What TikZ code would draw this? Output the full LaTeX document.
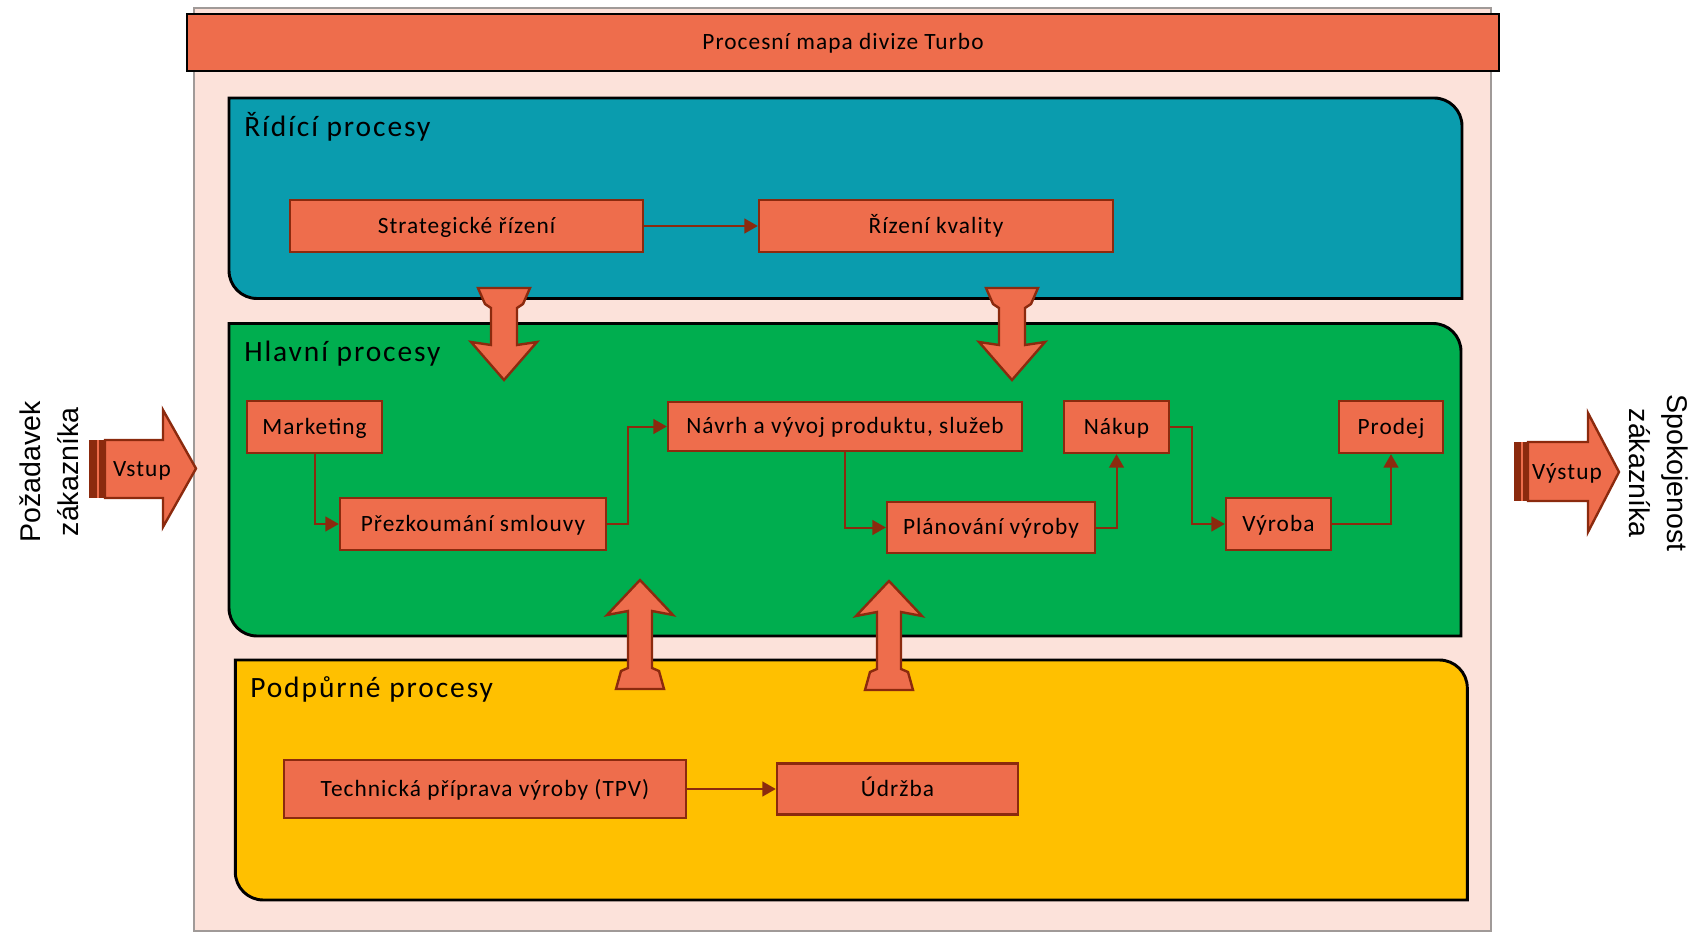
\documentclass[tikz,border=0pt]{standalone}
\usepackage{fontspec}
\setmainfont{Carlito}
\newfontfamily\arialfont{Liberation Sans}
\newfontfamily\boxfont[LetterSpace=4.5]{Carlito}
\newfontfamily\headfont[LetterSpace=6.5]{Carlito}
\usetikzlibrary{arrows.meta}
\definecolor{procorange}{HTML}{EE6D4C}
\definecolor{procedge}{HTML}{8B2A0E}
\definecolor{mapbg}{HTML}{FCE2DA}
\definecolor{mapframe}{HTML}{A09A98}
\definecolor{ctrlblue}{HTML}{0A9CAE}
\definecolor{maingreen}{HTML}{00AE4F}
\definecolor{suppyellow}{HTML}{FFC000}

% region with rounded top-right and bottom-left corners
\newcommand{\procregion}[5]{%
  \filldraw[region, fill=#5] (#1,#2) -- ({#3-28},#2)
    .. controls ({#3-12.5},#2) and (#3,{#2+12.5}) .. (#3,{#2+28})
    -- (#3,#4) -- ({#1+28},#4)
    .. controls ({#1+12.5},#4) and (#1,{#4-12.5}) .. (#1,{#4-28}) -- cycle;}
% thick block arrow pointing down, top centre at (#1,#2)
\newcommand{\blockdown}[2]{%
  \filldraw[blockarrow, shift={(#1,#2)}] (-26,0) -- (26,0) -- (19,16) -- (13,20)
    -- (13,57) -- (33,54) -- (0,92) -- (-33,54) -- (-13,57) -- (-13,20)
    -- (-19,16) -- cycle;}
% thick block arrow pointing up, tip at (#1,#2)
\newcommand{\blockup}[2]{%
  \filldraw[blockarrow, shift={(#1,#2)}] (0,0) -- (33,35) -- (12,31) -- (12,88)
    -- (19,91) -- (24,109) -- (-24,109) -- (-19,91) -- (-12,88) -- (-12,31)
    -- (-33,35) -- cycle;}

\begin{document}
\begin{tikzpicture}[x=0.75pt,y=-0.75pt,
  wh/.style 2 args={minimum width=#1*0.75pt, minimum height=#2*0.75pt},
  boxtext/.style={inner sep=0pt, text height=13.1pt, text depth=2.3pt,
    font=\boxfont\fontsize{17.5}{21}\selectfont, text=black},
  procbox/.style={boxtext, draw=procedge, fill=procorange, line width=1.8pt},
  titlebox/.style={boxtext, draw=black, fill=procorange, line width=2.2pt},
  heading/.style={inner sep=0pt, anchor=base west, font=\headfont\fontsize{22.1}{26}\selectfont},
  conn/.style={draw=procedge, line width=1.5pt, -{Triangle[length=10pt,width=11pt]}},
  region/.style={draw=black, line width=2.2pt},
  blockarrow/.style={fill=procorange, draw=procedge, line width=1.8pt, line join=miter},
  sidetext/.style={align=center, inner sep=0pt,
    font=\arialfont\fontsize{21.4}{28.5}\selectfont}]
\useasboundingbox (0,0) rectangle (1708,937);

% background panel
\filldraw[fill=mapbg, draw=mapframe, line width=1.6pt] (194,8) rectangle (1491,931);
\node[titlebox, wh={1312}{57}] (title) at (843,42.5) {Procesní mapa divize Turbo};

% process groups
\procregion{229}{98}{1462}{298.5}{ctrlblue}
\procregion{229}{323.5}{1461}{636}{maingreen}
\procregion{235.3}{660}{1467.3}{900}{suppyellow}

\node[heading] (hctrl) at (244,136.5) {Řídící procesy};
\node[heading] (hmain) at (244,362) {Hlavní procesy};
\node[heading] (hsupp) at (250,697) {Podpůrné procesy};

% links between groups
\blockdown{504}{288}
\blockdown{1012}{288}
\blockup{640}{580}
\blockup{889}{581}

% control processes
\node[procbox, wh={353}{52}] (strat) at (466.5,226) {Strategické řízení};
\node[procbox, wh={354}{52}] (kval) at (936,226) {Řízení kvality};

% main processes
\node[procbox, wh={135}{52}] (mkt) at (314.5,427) {Marketing};
\node[procbox, wh={266}{52}] (prez) at (473,524) {Přezkoumání smlouvy};
\node[procbox, wh={354}{49}] (navrh) at (845,426.5) {Návrh a vývoj produktu, služeb};
\node[procbox, wh={208}{51}] (plan) at (991,527.5) {Plánování výroby};
\node[procbox, wh={105}{52}] (nakup) at (1116.5,427) {Nákup};
\node[procbox, wh={105}{52}] (vyroba) at (1278.5,524) {Výroba};
\node[procbox, wh={104}{52}] (prodej) at (1391,427) {Prodej};

% support processes
\node[procbox, wh={402}{58}] (tpv) at (485,789) {Technická příprava výroby (TPV)};
\node[procbox, wh={241}{51}] (udrzba) at (897.5,789) {Údržba};

% flow
\draw[conn] (strat.east) -- (kval.west);
\draw[conn] (mkt.south) |- (prez.west);
\draw[conn] (prez.east) -- ++(21,0) |- (navrh.west);
\draw[conn] (navrh.south) |- (plan.west);
\draw[conn] (plan.east) -| (nakup.south);
\draw[conn] (nakup.east) -- ++(22,0) |- (vyroba.west);
\draw[conn] (vyroba.east) -| (prodej.south);
\draw[conn] (tpv.east) -- (udrzba.west);

% input arrow
\fill[procedge] (89,440) rectangle (105,498);
\draw[procorange, line width=1pt] (98,440) -- (98,498);
\filldraw[blockarrow] (105,440) -- (163,440) -- (163,410) -- (196,468.5)
  -- (163,527) -- (163,498) -- (105,498) -- cycle;
\node[boxtext] (vstup) at (142,469) {Vstup};
\node[sidetext, rotate=90] (pozadavek) at (49,472) {Požadavek\\zákazníka};

% output arrow
\fill[procedge] (1514,442) rectangle (1528,501);
\draw[procorange, line width=1pt] (1522,442) -- (1522,501);
\filldraw[blockarrow] (1528,442) -- (1588,442) -- (1588,413) -- (1619,472)
  -- (1588,532) -- (1588,501) -- (1528,501) -- cycle;
\node[boxtext] (vystup) at (1567,472) {Výstup};
\node[sidetext, rotate=-90] (spokojenost) at (1659,473) {Spokojenost\\zákazníka};
\end{tikzpicture}
\end{document}
